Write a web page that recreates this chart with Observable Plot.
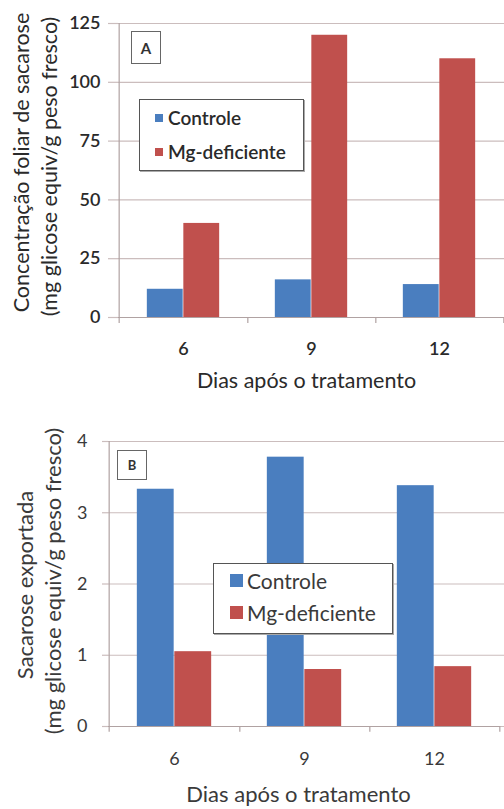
<!DOCTYPE html>
<html><head><meta charset="utf-8">
<script src="https://cdn.jsdelivr.net/npm/d3@7"></script>
<script src="https://cdn.jsdelivr.net/npm/@observablehq/plot@0.6"></script>
<style>
body{margin:0;background:#fff;font-family:Lato,"Open Sans",sans-serif;}
.panel{position:relative;width:504px;}
.panel svg{display:block;}
.legend{position:absolute;background:#fff;border:1px solid #555;box-shadow:1px 1px 0 #aaa;box-sizing:border-box;}
.legend .item{position:absolute;display:flex;align-items:center;white-space:nowrap;}
.legend .sw{display:inline-block;}
.tag{position:absolute;border:1.5px solid #666;box-sizing:border-box;display:flex;align-items:center;justify-content:center;font-weight:bold;color:#333;background:#fff;}
</style></head><body><div id="chart"></div>
<script>
const days = ["6", "9", "12"];
const series = ["Controle", "Mg-deficiente"];
const colors = ["#4a7ebf", "#c0504d"];
const sucroseControle = [12, 16, 14];
const sucroseMg = [40, 120, 110];
const exportControle = [3.33, 3.78, 3.38];
const exportMg = [1.05, 0.80, 0.84];
const ticksA = [0, 25, 50, 75, 100, 125];
const ticksB = [0, 1, 2, 3, 4];
const xLabel = "Dias após o tratamento";
const yLabelA = ["Concentração foliar de sacarose", "(mg glicose equiv/g peso fresco)"];
const yLabelB = ["Sacarose exportada", "(mg glicose equiv/g peso fresco)"];

function rows(ctrl, mg) {
  return days.flatMap((d, i) => [
    {day: d, series: series[0], value: ctrl[i]},
    {day: d, series: series[1], value: mg[i]}
  ]);
}

function panel(cfg) {
  const W = 504;
  const step = (W - cfg.ml - cfg.mr) / days.length;
  const bw = cfg.bw;
  const data = rows(cfg.ctrl, cfg.mg);
  const ymax = cfg.ticks[cfg.ticks.length - 1];
  const tick = cfg.tickSize;
  const axisColor = "#b0a2a2";
  const plot = Plot.plot({
    width: W, height: cfg.height,
    marginLeft: cfg.ml, marginRight: cfg.mr, marginTop: cfg.mt, marginBottom: cfg.mb,
    style: {fontFamily: "Lato, 'Open Sans', sans-serif", background: "#fff", overflow: "visible"},
    x: {type: "band", domain: days, padding: 0, axis: null},
    y: {domain: [0, ymax], axis: null},
    marks: [
      Plot.gridY(cfg.ticks, {stroke: "#cbbdbd", strokeOpacity: 1, strokeWidth: 1.2, insetRight: -cfg.mr}),
      Plot.axisY({ticks: cfg.ticks, tickFormat: d => String(d), tickSize: tick, tickPadding: cfg.tickPad, stroke: "#cbbdbd", strokeOpacity: 1, strokeWidth: 1.2, fill: cfg.textColor, fontSize: cfg.tickFont, fontWeight: cfg.weight, label: null}),
      Plot.barY(data.filter(d => d.series === series[0]), {x: "day", y: "value", fill: colors[0], insetLeft: step / 2 - bw, insetRight: step / 2}),
      Plot.barY(data.filter(d => d.series === series[1]), {x: "day", y: "value", fill: colors[1], insetLeft: step / 2, insetRight: step / 2 - bw}),
      Plot.ruleY([0], {stroke: axisColor, strokeWidth: 1.2}),
      Plot.ruleX([days[0]], {dx: -step / 2, y1: -ymax * 0.02, y2: ymax, stroke: axisColor, strokeWidth: 1.2}),
      Plot.ruleX(days, {dx: step / 2, y1: 0, y2: -ymax * 0.02, stroke: axisColor, strokeWidth: 1.2}),
      Plot.text(days, {x: d => d, frameAnchor: "bottom", dy: cfg.xTickDy, fontSize: cfg.tickFont, fontWeight: cfg.weight, fill: cfg.textColor}),
      Plot.text([xLabel], {frameAnchor: "bottom", dy: cfg.xLabelDy, dx: cfg.xLabelDx, fontSize: cfg.labelFont, fontWeight: cfg.labelWeight, fill: cfg.textColor}),
      Plot.text([cfg.ylabel[0]], {frameAnchor: "left", textAnchor: "middle", rotate: -90, dx: cfg.yl1, dy: cfg.ylDy1, fontSize: cfg.labelFont, fontWeight: cfg.labelWeight, fill: cfg.textColor}),
      Plot.text([cfg.ylabel[1]], {frameAnchor: "left", textAnchor: "middle", rotate: -90, dx: cfg.yl2, dy: cfg.ylDy2, fontSize: cfg.labelFont, fontWeight: cfg.labelWeight, fill: cfg.textColor})
    ]
  });
  const div = document.createElement("div");
  div.className = "panel";
  div.appendChild(plot);
  const tag = document.createElement("div");
  tag.className = "tag";
  Object.assign(tag.style, {left: cfg.tag.x + "px", top: cfg.tag.y + "px", width: cfg.tag.w + "px", height: cfg.tag.h + "px", fontSize: cfg.tag.fs + "px"});
  tag.textContent = cfg.tag.text;
  div.appendChild(tag);
  const lg = document.createElement("div");
  lg.className = "legend";
  const L = cfg.legend;
  Object.assign(lg.style, {left: L.x + "px", top: L.y + "px", width: L.w + "px", height: L.h + "px"});
  series.forEach((s, i) => {
    const it = document.createElement("div");
    it.className = "item";
    Object.assign(it.style, {left: L.sx + "px", top: (L.rows[i] - L.fs * 0.7) + "px", height: (L.fs * 1.4) + "px", fontSize: L.fs + "px", fontWeight: L.weight, color: cfg.textColor});
    const sw = document.createElement("span");
    sw.className = "sw";
    Object.assign(sw.style, {width: L.sw + "px", height: L.sw + "px", background: colors[i], marginRight: L.gap + "px"});
    it.appendChild(sw);
    it.appendChild(document.createTextNode(s));
    lg.appendChild(it);
  });
  div.appendChild(lg);
  return div;
}

const root = document.getElementById("chart");
root.appendChild(panel({
  height: 405, ml: 118, mr: 0, mt: 23, mb: 88, bw: 36.5, tickSize: 10, tickPad: 8,
  ctrl: sucroseControle, mg: sucroseMg, ticks: ticksA, ylabel: yLabelA,
  tickFont: 18, labelFont: 21.5, weight: 600, labelWeight: 400, textColor: "#2a2a2a",
  xTickDy: 37, xLabelDy: 70, xLabelDx: -5,
  yl1: 22 - 118, yl2: 50 - 118, ylDy1: -8, ylDy2: -4,
  tag: {x: 131, y: 31, w: 30, h: 33, fs: 15, text: "A"},
  legend: {x: 139, y: 99, w: 165, h: 72, sx: 15, rows: [18, 52], fs: 19, sw: 8, gap: 5, weight: 600}
}));
root.appendChild(panel({
  height: 404, ml: 108, mr: 4, mt: 36, mb: 83, bw: 37.5, tickSize: 6, tickPad: 15,
  ctrl: exportControle, mg: exportMg, ticks: ticksB, ylabel: yLabelB,
  tickFont: 18, labelFont: 22, weight: 400, labelWeight: 400, textColor: "#3a3a3a",
  xTickDy: 38, xLabelDy: 75, xLabelDx: -6,
  yl1: 25 - 108, yl2: 53 - 108, ylDy1: 1, ylDy2: -3,
  tag: {x: 117, y: 45, w: 30, h: 30, fs: 13, text: "B"},
  legend: {x: 213, y: 158, w: 180, h: 71, sx: 16, rows: [17, 49], fs: 21, sw: 13, gap: 4, weight: 400}
}));
</script></body></html>
